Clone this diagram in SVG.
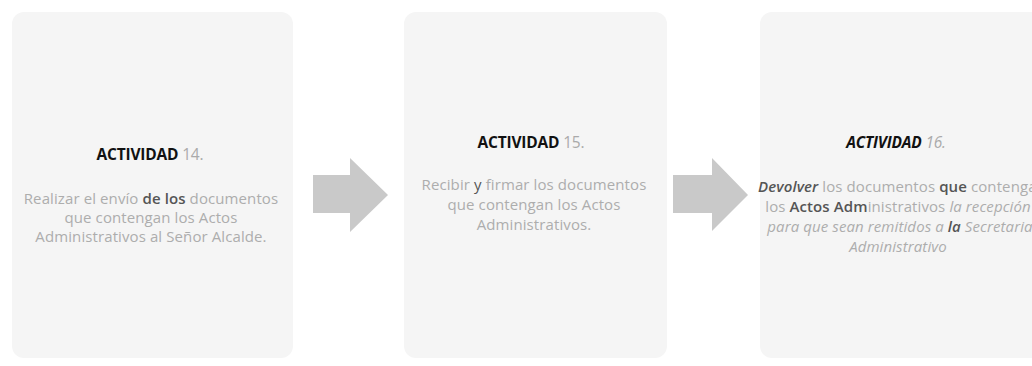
<svg xmlns="http://www.w3.org/2000/svg" width="1032" height="366" viewBox="0 0 1032 366">
<style>
.box{fill:#f5f5f5;}
.arrow{fill:#c9c9c9;}
text{font-family:"Open Sans","Liberation Sans",sans-serif;text-anchor:middle;}
.t{font-size:15.5px;font-weight:bold;fill:#111;letter-spacing:-0.2px;}
.d{font-size:15px;fill:#adadad;letter-spacing:0.1px;}
.k{fill:#555;font-weight:600;}
.g{fill:#aaa;font-weight:normal;}
.i{font-style:italic;}
</style>
<rect width="1032" height="366" fill="#ffffff"/>
<g id="node-14">
<rect class="box" x="12" y="12" width="281" height="346" rx="12"/>
<text class="t" x="150" y="160">ACTIVIDAD <tspan class="g">14.</tspan></text>
<text class="d" x="151" y="204">Realizar el envío <tspan class="k">de los</tspan> documentos</text>
<text class="d" x="151" y="223">que contengan los Actos</text>
<text class="d" x="151" y="242">Administrativos al Señor Alcalde.</text>
</g>
<g id="node-15">
<rect class="box" x="404" y="12" width="263" height="346" rx="12"/>
<text class="t" x="531" y="148">ACTIVIDAD <tspan class="g">15.</tspan></text>
<text class="d" x="534" y="190">Recibir <tspan fill="#555">y</tspan> firmar los documentos</text>
<text class="d" x="534" y="210">que contengan los Actos</text>
<text class="d" x="534" y="230">Administrativos.</text>
</g>
<g id="node-16">
<rect class="box" x="760" y="12" width="290" height="346" rx="12"/>
<text class="t i" x="896" y="148">ACTIVIDAD <tspan class="g">16.</tspan></text>
<text class="d" x="902" y="192"><tspan class="k i" fill="#333">Devolver</tspan> los documentos <tspan class="k">que</tspan> contengan</text>
<text class="d" x="898" y="212">los <tspan class="k">Actos Adm</tspan>inistrativos <tspan class="i">la recepción</tspan></text>
<text class="d i" x="900" y="232">para que sean remitidos a <tspan class="k">la</tspan> Secretaria</text>
<text class="d i" x="898" y="252">Administrativo</text>
</g>
<g id="connectors">
<polygon class="arrow" points="313,175 350,175 350,158 388,195 350,232 350,213 313,213"/>
<polygon class="arrow" points="673,175 712,175 712,158 748,195 712,231 712,213 673,213"/>
</g>
</svg>
